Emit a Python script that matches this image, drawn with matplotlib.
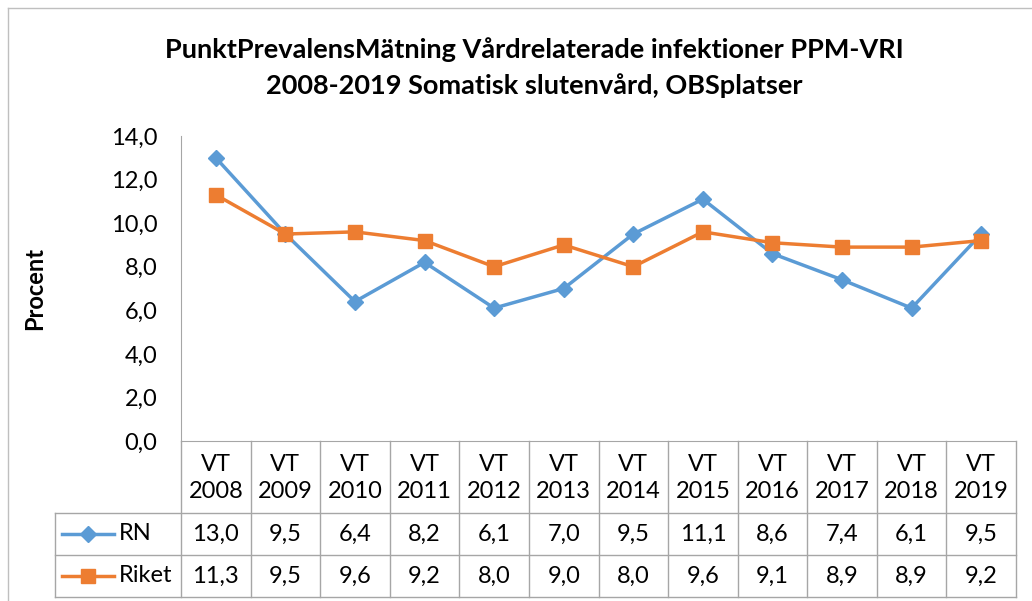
import numpy as np
import matplotlib.pyplot as plt
from matplotlib.lines import Line2D

plt.rcParams['font.family'] = ['Lato', 'DejaVu Sans']

years = ['2008', '2009', '2010', '2011', '2012', '2013',
         '2014', '2015', '2016', '2017', '2018', '2019']
categories = ['VT\n' + y for y in years]
rn = [13.0, 9.5, 6.4, 8.2, 6.1, 7.0, 9.5, 11.1, 8.6, 7.4, 6.1, 9.5]
riket = [11.3, 9.5, 9.6, 9.2, 8.0, 9.0, 8.0, 9.6, 9.1, 8.9, 8.9, 9.2]
yticks = [0, 2, 4, 6, 8, 10, 12, 14]

W, H = 1032, 601
blue = '#5B9BD5'
orange = '#ED7D31'
grid_c = '#A6A6A6'
fs = 17

fig = plt.figure(figsize=(W / 100, H / 100), dpi=100)

def fx(px):
    return px / W

def fy(py):
    return 1 - py / H

# chart frame (cropped)
fig.add_artist(Line2D([fx(8), fx(8)], [fy(8), 0], color='#BFBFBF', lw=1))
fig.add_artist(Line2D([fx(8), 1], [fy(8), fy(8)], color='#BFBFBF', lw=1))

ax_l, ax_r, ax_t, ax_b = 181, 1016, 136, 441
ax = fig.add_axes([fx(ax_l), fy(ax_b), fx(ax_r - ax_l), fy(ax_t) - fy(ax_b)])
x = np.arange(len(years))
ax.plot(x, rn, color=blue, lw=2.5, marker='D', ms=8.5, label='RN')
ax.plot(x, riket, color=orange, lw=2.5, marker='s', ms=10, label='Riket')
ax.set_xlim(-0.5, len(years) - 0.5)
ax.set_ylim(0, 14)
ax.set_yticks(yticks)
ax.set_yticklabels([f'{v:.1f}'.replace('.', ',') for v in yticks], fontsize=fs)
ax.tick_params(axis='y', length=0, pad=17)
ax.set_xticks([])
for s in ['top', 'right']:
    ax.spines[s].set_visible(False)
ax.spines['left'].set_color(grid_c)
ax.spines['bottom'].set_color(grid_c)

fig.text(fx(35), fy(288), 'Procent', rotation=90, fontsize=fs, fontweight='bold',
         ha='center', va='center')

fig.text(fx(534), fy(50), 'PunktPrevalensMätning Vårdrelaterade infektioner PPM-VRI',
         fontsize=19.5, fontweight='bold', ha='center', va='center')
fig.text(fx(534), fy(86), '2008-2019 Somatisk slutenvård, OBSplatser',
         fontsize=19.5, fontweight='bold', ha='center', va='center')

# data table
col_w = (ax_r - ax_l) / len(years)
leg_l = 55
rows = [441, 513, 555, 597]

def line(x0, x1, y0, y1):
    fig.add_artist(Line2D([fx(x0), fx(x1)], [fy(y0), fy(y1)], color=grid_c, lw=1))

for i in range(len(years) + 1):
    xp = ax_l + i * col_w
    line(xp, xp, rows[0], rows[3])
line(leg_l, leg_l, rows[1], rows[3])
for r in rows[1:]:
    line(leg_l, ax_r, r, r)

for i, cat in enumerate(categories):
    cx = ax_l + (i + 0.5) * col_w
    fig.text(fx(cx), fy((rows[0] + rows[1]) / 2 + 1), cat, fontsize=fs,
             ha='center', va='center', linespacing=1.38)
    for j, series in enumerate([rn, riket]):
        cy = (rows[j + 1] + rows[j + 2]) / 2
        fig.text(fx(cx), fy(cy), f'{series[i]:.1f}'.replace('.', ','),
                 fontsize=fs, ha='center', va='center')

for j, (name, col, mk, ms) in enumerate([('RN', blue, 'D', 8.5), ('Riket', orange, 's', 10)]):
    cy = (rows[j + 1] + rows[j + 2]) / 2
    fig.add_artist(Line2D([fx(62), fx(114)], [fy(cy), fy(cy)], color=col, lw=2.5))
    fig.add_artist(Line2D([fx(88)], [fy(cy)], color=col, marker=mk, ms=ms, lw=0))
    fig.text(fx(119), fy(cy), name, fontsize=fs, ha='left', va='center')

fig.savefig('out.png', dpi=100)
